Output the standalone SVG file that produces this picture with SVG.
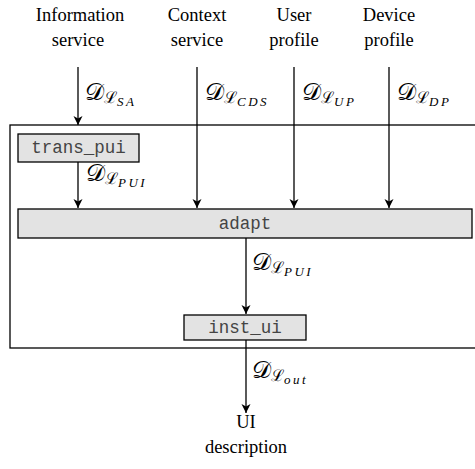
<svg xmlns="http://www.w3.org/2000/svg" width="475" height="469" viewBox="0 0 475 469">
  <style>
    .lbl { font-family: "Liberation Serif", Tinos, "Times New Roman", "DejaVu Serif", serif; font-size: 18.5px; fill: #000; text-anchor: middle; }
    .math { font-family: "DejaVu Serif", "Liberation Serif", serif; font-size: 24px; fill: #000; }
    .sub { font-family: "Liberation Serif", Tinos, "DejaVu Serif", serif; font-style: italic; font-size: 13px; letter-spacing: 2.5px; }
    .subL { font-size: 16px; }
    .box { fill: #e3e3e3; stroke: #000; stroke-width: 1.3; }
    .code { font-family: "Liberation Mono", Cousine, "Courier New", "DejaVu Sans Mono", monospace; font-size: 17.5px; fill: #444; text-anchor: middle; }
    .wire { stroke: #000; stroke-width: 1.3; fill: none; }
  </style>
  <defs>
    <marker id="arrow" markerWidth="11" markerHeight="11" refX="9" refY="5.5" orient="auto" markerUnits="userSpaceOnUse">
      <path d="M0,1 L9,5.5 L0,10 L2.5,5.5 Z" fill="#000"/>
    </marker>
  </defs>

  <rect x="0" y="0" width="475" height="469" fill="#fff"/>

  <!-- source labels -->
  <g id="src-info">
    <text class="lbl" x="80" y="21">Information</text>
    <text class="lbl" x="78" y="46">service</text>
  </g>
  <g id="src-context">
    <text class="lbl" x="197" y="21">Context</text>
    <text class="lbl" x="197" y="46">service</text>
  </g>
  <g id="src-user">
    <text class="lbl" x="294" y="21">User</text>
    <text class="lbl" x="294" y="46">profile</text>
  </g>
  <g id="src-device">
    <text class="lbl" x="389" y="21">Device</text>
    <text class="lbl" x="389" y="46">profile</text>
  </g>

  <!-- enclosing system -->
  <g id="system">
    <rect x="10" y="125" width="470" height="223" fill="none" stroke="#000" stroke-width="1.3"/>
  </g>

  <g id="trans_pui">
    <rect class="box" x="18" y="134" width="121" height="28"/>
    <text class="code" x="78.5" y="153">trans_pui</text>
  </g>
  <g id="adapt">
    <rect class="box" x="18" y="209" width="454" height="29"/>
    <text class="code" x="245" y="229">adapt</text>
  </g>
  <g id="inst_ui">
    <rect class="box" x="184" y="315" width="122" height="25"/>
    <text class="code" x="245" y="333">inst_ui</text>
  </g>

  <g id="sink-ui">
    <text class="lbl" x="246" y="428">UI</text>
    <text class="lbl" x="246" y="453">description</text>
  </g>

  <!-- connectors -->
  <g id="connectors">
    <line class="wire" x1="78" y1="67" x2="78" y2="125" marker-end="url(#arrow)"/>
    <line class="wire" x1="78" y1="162" x2="78" y2="208" marker-end="url(#arrow)"/>
    <line class="wire" x1="197" y1="67" x2="197" y2="208" marker-end="url(#arrow)"/>
    <line class="wire" x1="294" y1="67" x2="294" y2="208" marker-end="url(#arrow)"/>
    <line class="wire" x1="389" y1="67" x2="389" y2="208" marker-end="url(#arrow)"/>
    <line class="wire" x1="246" y1="238" x2="246" y2="314" marker-end="url(#arrow)"/>
    <line class="wire" x1="246" y1="340" x2="246" y2="413" marker-end="url(#arrow)"/>
  </g>

  <!-- connector labels -->
  <g id="labels">
    <text class="math" x="85" y="100">𝒟<tspan class="subL" dy="3">ℒ</tspan><tspan class="sub" dy="3">SA</tspan></text>
    <text class="math" x="205" y="100">𝒟<tspan class="subL" dy="3">ℒ</tspan><tspan class="sub" dy="3">CDS</tspan></text>
    <text class="math" x="302" y="100">𝒟<tspan class="subL" dy="3">ℒ</tspan><tspan class="sub" dy="3">UP</tspan></text>
    <text class="math" x="397" y="100">𝒟<tspan class="subL" dy="3">ℒ</tspan><tspan class="sub" dy="3">DP</tspan></text>
    <text class="math" x="86" y="181">𝒟<tspan class="subL" dy="3">ℒ</tspan><tspan class="sub" dy="3">PUI</tspan></text>
    <text class="math" x="252" y="270">𝒟<tspan class="subL" dy="3">ℒ</tspan><tspan class="sub" dy="3">PUI</tspan></text>
    <text class="math" x="252" y="378">𝒟<tspan class="subL" dy="3">ℒ</tspan><tspan class="sub" dy="3">out</tspan></text>
  </g>
</svg>
